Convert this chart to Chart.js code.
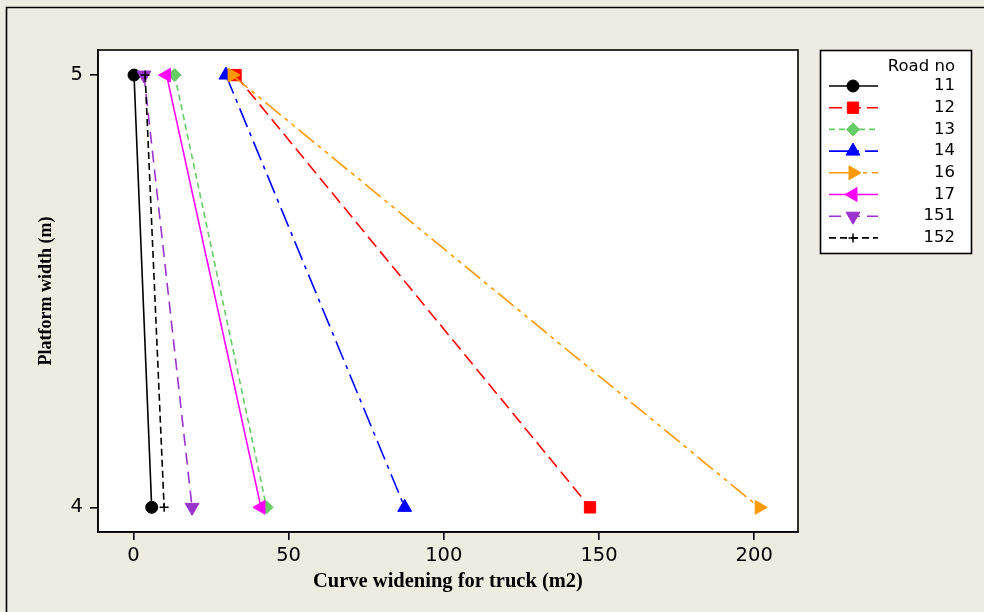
<!DOCTYPE html>
<html><head><meta charset="utf-8">
<script src="https://cdn.jsdelivr.net/npm/chart.js@4.4.1/dist/chart.umd.min.js"></script>
<style>html,body{margin:0;padding:0;background:#EEEBE1;}#wrap{width:984px;height:612px;position:relative;}</style>
</head><body><div id="wrap"><canvas id="c"></canvas></div>
<script>
// ---- data ----
const roadNos = ['11', '12', '13', '14', '16', '17', '151', '152'];
const platformWidths = [5, 4];
const widening11 = [0.2, 5.9];
const widening12 = [32.9, 147.1];
const widening13 = [13.3, 42.9];
const widening14 = [29.8, 87.4];
const widening16 = [31.8, 201.6];
const widening17 = [10.7, 41.1];
const widening151 = [3.4, 18.9];
const widening152 = [3.8, 9.9];
const xTickValues = [0, 50, 100, 150, 200];
const yTickValues = [4, 5];
const xTitle = 'Curve widening for truck (m2)';
const yTitle = 'Platform width (m)';
const legendTitle = 'Road no';

const seriesValues = [widening11, widening12, widening13, widening14, widening16, widening17, widening151, widening152];

// ---- styles ----
const styles = [
  {color: '#000000', dash: [], point: 'circle', rot: 0, r: 6},
  {color: '#FF0000', dash: [13, 6], point: 'rect', rot: 0, r: 8},
  {color: '#66CC66', dash: [6, 4], point: 'rectRot', rot: 0, r: 6.5},
  {color: '#0000FF', dash: [20, 6, 4, 6], point: 'triangle', rot: 0, r: 8},
  {color: '#FF9900', dash: [20, 5, 4, 5, 4, 5], point: 'triangle', rot: 90, r: 8},
  {color: '#FF00FF', dash: [], point: 'triangle', rot: 270, r: 8},
  {color: '#9933CC', dash: [12, 7], point: 'triangle', rot: 180, r: 8},
  {color: '#000000', dash: [7, 4], point: 'cross', rot: 0, r: 4.5}
];

const datasets = roadNos.map((name, i) => ({
  label: name,
  data: platformWidths.map((y, j) => ({x: seriesValues[i][j], y: y})),
  showLine: true,
  borderColor: styles[i].color,
  backgroundColor: styles[i].color,
  borderWidth: 1.6,
  borderDash: styles[i].dash,
  pointStyle: styles[i].point,
  pointRotation: styles[i].rot,
  pointRadius: styles[i].r,
  pointHoverRadius: styles[i].r,
  pointBackgroundColor: styles[i].color,
  pointBorderColor: styles[i].color,
  pointBorderWidth: styles[i].point === 'cross' ? 1.5 : 1,
  order: roadNos.length - i
}));

const frame = {
  id: 'frame',
  beforeDraw(chart) {
    const ctx = chart.ctx, a = chart.chartArea;
    ctx.save();
    ctx.fillStyle = '#EEEBE1';
    ctx.fillRect(0, 0, chart.width, chart.height);
    ctx.strokeStyle = '#000';
    ctx.lineWidth = 1.6;
    ctx.beginPath();
    ctx.moveTo(6.5, chart.height);
    ctx.lineTo(6.5, 7.5);
    ctx.lineTo(chart.width, 7.5);
    ctx.stroke();
    ctx.fillStyle = '#FFFFFF';
    ctx.fillRect(a.left, a.top, a.right - a.left, a.bottom - a.top);
    ctx.restore();
  },
  afterDraw(chart) {
    const ctx = chart.ctx, a = chart.chartArea;
    ctx.save();
    ctx.strokeStyle = '#000';
    ctx.lineWidth = 1.6;
    ctx.strokeRect(a.left, a.top, a.right - a.left, a.bottom - a.top);
    // legend
    const lx = 820.5, ly = 50.5, lw = 151, lh = 203;
    ctx.fillStyle = '#FFFFFF';
    ctx.fillRect(lx, ly, lw, lh);
    ctx.strokeRect(lx, ly, lw, lh);
    ctx.fillStyle = '#000';
    ctx.font = '16.5px "DejaVu Sans"';
    ctx.textAlign = 'right';
    ctx.textBaseline = 'middle';
    ctx.fillText(legendTitle, 955, 67);
    chart.data.datasets.forEach((ds, i) => {
      const y = 86 + i * 21.7;
      ctx.save();
      ctx.strokeStyle = ds.borderColor;
      ctx.lineWidth = 1.6;
      ctx.setLineDash(ds.borderDash);
      ctx.beginPath();
      ctx.moveTo(829, y);
      ctx.lineTo(878, y);
      ctx.stroke();
      ctx.setLineDash([]);
      ctx.fillStyle = ds.pointBackgroundColor;
      ctx.strokeStyle = ds.pointBorderColor;
      ctx.lineWidth = ds.pointBorderWidth;
      Chart.helpers.drawPoint(ctx, {pointStyle: ds.pointStyle, rotation: ds.pointRotation, radius: ds.pointRadius, borderWidth: ds.pointBorderWidth}, 853, y);
      ctx.restore();
      ctx.fillStyle = '#000';
      ctx.font = '16.5px "DejaVu Sans"';
      ctx.textAlign = 'right';
      ctx.textBaseline = 'middle';
      ctx.fillText(ds.label, 955, y);
    });
    ctx.restore();
  }
};

new Chart(document.getElementById('c'), {
  type: 'scatter',
  data: {datasets},
  options: {
    responsive: true,
    maintainAspectRatio: false,
    animation: false,
    layout: {padding: {left: 0, top: 50, right: 186, bottom: 0}},
    plugins: {legend: {display: false}, tooltip: {enabled: false}},
    scales: {
      x: {
        type: 'linear', min: -11.4, max: 214.1,
        afterBuildTicks: s => { s.ticks = xTickValues.map(v => ({value: v})); },
        afterFit: s => { s.height = 80; },
        ticks: {color: '#000', font: {family: 'DejaVu Sans', size: 19.5}, padding: 4},
        grid: {drawOnChartArea: false, drawTicks: true, tickLength: 8, color: '#000', lineWidth: 1.6},
        border: {display: true, color: '#000', width: 1.6},
        title: {display: true, text: xTitle, color: '#000', font: {family: 'Liberation Serif', size: 20.5, weight: 'bold'}, padding: {top: 0, bottom: 18}}
      },
      y: {
        type: 'linear', min: 3.943, max: 5.058,
        afterBuildTicks: s => { s.ticks = yTickValues.map(v => ({value: v})); },
        afterFit: s => { s.width = 98; },
        ticks: {color: '#000', font: {family: 'DejaVu Sans', size: 19.5}, padding: 7},
        grid: {drawOnChartArea: false, drawTicks: true, tickLength: 8, color: '#000', lineWidth: 1.6},
        border: {display: true, color: '#000', width: 1.6},
        title: {display: true, text: yTitle, color: '#000', font: {family: 'Liberation Serif', size: 18, weight: 'bold'}, padding: {top: 36, bottom: 0}}
      }
    }
  },
  plugins: [frame]
});
</script></body></html>
